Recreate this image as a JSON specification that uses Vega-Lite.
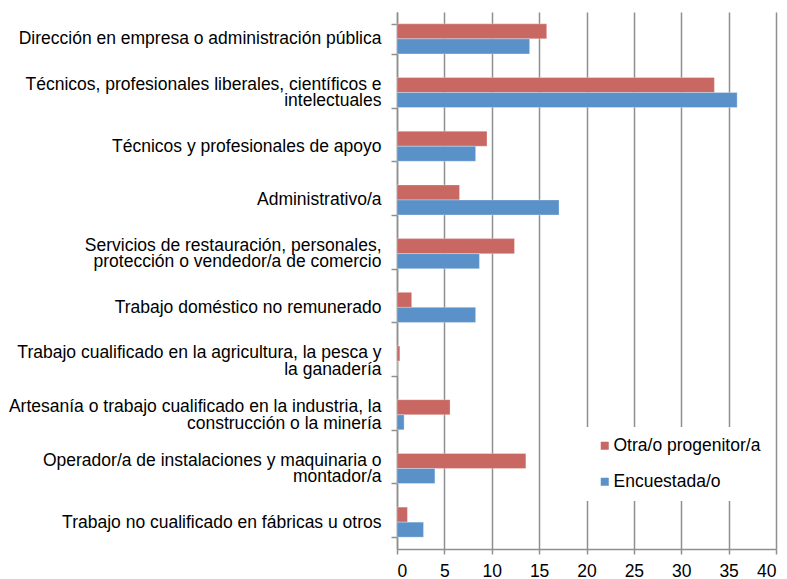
{
  "$schema": "https://vega.github.io/schema/vega-lite/v6.json",
  "width": 379,
  "height": 537,
  "autosize": {"type": "none"},
  "padding": {"left": 397, "top": 12, "right": 11, "bottom": 30},
  "background": "white",
  "config": {
    "view": {"stroke": null},
    "font": "Liberation Sans"
  },
  "data": {
    "values": [
      {"cat": "Dirección en empresa o administración pública", "serie": "Otra/o progenitor/a", "v": 15.8},
      {"cat": "Dirección en empresa o administración pública", "serie": "Encuestada/o", "v": 14.0},
      {"cat": "Técnicos, profesionales liberales, científicos e|intelectuales", "serie": "Otra/o progenitor/a", "v": 33.5},
      {"cat": "Técnicos, profesionales liberales, científicos e|intelectuales", "serie": "Encuestada/o", "v": 35.9},
      {"cat": "Técnicos y profesionales de apoyo", "serie": "Otra/o progenitor/a", "v": 9.5},
      {"cat": "Técnicos y profesionales de apoyo", "serie": "Encuestada/o", "v": 8.3},
      {"cat": "Administrativo/a", "serie": "Otra/o progenitor/a", "v": 6.6},
      {"cat": "Administrativo/a", "serie": "Encuestada/o", "v": 17.1},
      {"cat": "Servicios de restauración, personales,|protección o vendedor/a de comercio", "serie": "Otra/o progenitor/a", "v": 12.4},
      {"cat": "Servicios de restauración, personales,|protección o vendedor/a de comercio", "serie": "Encuestada/o", "v": 8.7},
      {"cat": "Trabajo doméstico no remunerado", "serie": "Otra/o progenitor/a", "v": 1.55},
      {"cat": "Trabajo doméstico no remunerado", "serie": "Encuestada/o", "v": 8.3},
      {"cat": "Trabajo cualificado en la agricultura, la pesca y|la ganadería", "serie": "Otra/o progenitor/a", "v": 0.3},
      {"cat": "Trabajo cualificado en la agricultura, la pesca y|la ganadería", "serie": "Encuestada/o", "v": 0},
      {"cat": "Artesanía o trabajo cualificado en la industria, la|construcción o la minería", "serie": "Otra/o progenitor/a", "v": 5.6},
      {"cat": "Artesanía o trabajo cualificado en la industria, la|construcción o la minería", "serie": "Encuestada/o", "v": 0.75},
      {"cat": "Operador/a de instalaciones y maquinaria o|montador/a", "serie": "Otra/o progenitor/a", "v": 13.6},
      {"cat": "Operador/a de instalaciones y maquinaria o|montador/a", "serie": "Encuestada/o", "v": 4.0},
      {"cat": "Trabajo no cualificado en fábricas u otros", "serie": "Otra/o progenitor/a", "v": 1.1},
      {"cat": "Trabajo no cualificado en fábricas u otros", "serie": "Encuestada/o", "v": 2.8}
    ]
  },
  "mark": {"type": "bar", "stroke": "white", "strokeOpacity": 0.5, "strokeWidth": 0.6},
  "encoding": {
    "y": {
      "field": "cat",
      "type": "nominal",
      "sort": null,
      "scale": {"paddingInner": 0.44, "paddingOuter": 0.22},
      "axis": {
        "title": null,
        "tickBand": "extent",
        "labelExpr": "indexof(datum.label, '|') >= 0 ? [split(datum.label, '|')[0], '\u2800', split(datum.label, '|')[1]] : ['\u2800', datum.label]",
        "labelFontSize": 17.5,
        "labelLineHeight": 8.25,
        "labelOffset": -8.25,
        "labelColor": "#000000",
        "labelPadding": 10,
        "labelLimit": 400,
        "tickSize": 6,
        "tickColor": "#8E9090",
        "tickWidth": 1.5,
        "domainColor": "#8E9090",
        "domainWidth": 1.5,
        "grid": false
      }
    },
    "yOffset": {
      "field": "serie",
      "type": "nominal",
      "sort": ["Otra/o progenitor/a", "Encuestada/o"],
      "scale": {"paddingInner": 0, "paddingOuter": 0}
    },
    "x": {
      "field": "v",
      "type": "quantitative",
      "scale": {"domain": [0, 40], "nice": false},
      "axis": {
        "title": null,
        "values": [0, 5, 10, 15, 20, 25, 30, 35, 40],
        "labelFontSize": 17.5,
        "labelColor": "#000000",
        "labelPadding": 8.5,
        "tickSize": 5,
        "tickColor": "#8E9090",
        "tickWidth": 1.5,
        "domainColor": "#8E9090",
        "domainWidth": 1.5,
        "grid": true,
        "gridColor": "#8E9090",
        "gridWidth": 1.5
      }
    },
    "color": {
      "field": "serie",
      "type": "nominal",
      "sort": ["Otra/o progenitor/a", "Encuestada/o"],
      "scale": {"domain": ["Otra/o progenitor/a", "Encuestada/o"], "range": ["#C96762", "#5A91C8"]},
      "legend": {
        "title": null,
        "orient": "none",
        "legendX": 189,
        "legendY": 415,
        "fillColor": "white",
        "padding": 10,
        "symbolType": "square",
        "symbolSize": 64,
        "symbolStrokeWidth": 0,
        "labelFontSize": 17.5,
        "labelColor": "#000000",
        "labelOffset": 0,
        "rowPadding": 17,
        "labelLimit": 300
      }
    }
  }
}
